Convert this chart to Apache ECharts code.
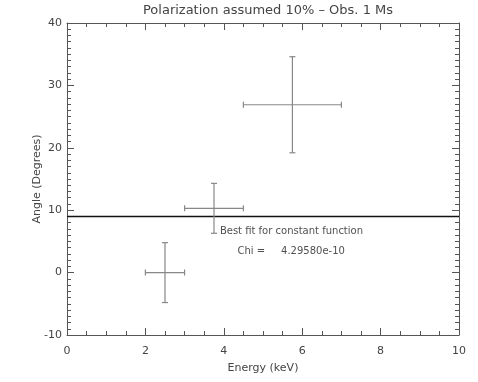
<!DOCTYPE html>
<html>
<head>
<meta charset="utf-8">
<script src="https://cdn.jsdelivr.net/npm/echarts@6/dist/echarts.min.js"></script>
<style>
  html, body { margin: 0; padding: 0; background: #fff; }
  #chart { width: 478px; height: 382px; }
</style>
</head>
<body>
<div id="chart"></div>
<script>
var energy = [2.5, 3.75, 5.75];
var energyLo = [2.0, 3.0, 4.5];
var energyHi = [3.0, 4.5, 7.0];
var angle = [0, 10.3, 26.9];
var angleErr = [4.8, 4.0, 7.7];
var fitValue = 9.0;
var fitLabel = 'Best fit for constant function';
var chiLabel = 'Chi =     4.29580e-10';

var chartDom = document.getElementById('chart');
var myChart = echarts.init(chartDom);

var textColor = '#444';
var font = 'DejaVu Sans';

var errData = energy.map(function (e, i) {
  return [e, angle[i], energyLo[i], energyHi[i], angle[i] - angleErr[i], angle[i] + angleErr[i]];
});

function renderErr(params, api) {
  var c = api.coord([api.value(0), api.value(1)]);
  var xl = api.coord([api.value(2), api.value(1)]);
  var xh = api.coord([api.value(3), api.value(1)]);
  var yl = api.coord([api.value(0), api.value(4)]);
  var yh = api.coord([api.value(0), api.value(5)]);
  var st = { stroke: '#888', lineWidth: 1.2 };
  var cap = 3;
  return {
    type: 'group',
    children: [
      { type: 'line', shape: { x1: xl[0], y1: c[1], x2: xh[0], y2: c[1] }, style: st },
      { type: 'line', shape: { x1: c[0], y1: yl[1], x2: c[0], y2: yh[1] }, style: st },
      { type: 'line', shape: { x1: xl[0], y1: c[1] - cap, x2: xl[0], y2: c[1] + cap }, style: st },
      { type: 'line', shape: { x1: xh[0], y1: c[1] - cap, x2: xh[0], y2: c[1] + cap }, style: st },
      { type: 'line', shape: { x1: c[0] - cap, y1: yl[1], x2: c[0] + cap, y2: yl[1] }, style: st },
      { type: 'line', shape: { x1: c[0] - cap, y1: yh[1], x2: c[0] + cap, y2: yh[1] }, style: st }
    ]
  };
}

var baseX = {
  type: 'value', min: 0, max: 10, interval: 2,
  axisLine: { onZero: false, lineStyle: { color: '#555', width: 1 } },
  axisTick: { inside: true, length: 7, lineStyle: { color: '#555' } },
  minorTick: { show: true, splitNumber: 4, length: 4, lineStyle: { color: '#555' } },
  splitLine: { show: false }
};
var baseY = {
  type: 'value', min: -10, max: 40, interval: 10,
  axisLine: { onZero: false, lineStyle: { color: '#555', width: 1 } },
  axisTick: { inside: true, length: 7, lineStyle: { color: '#555' } },
  minorTick: { show: true, splitNumber: 10, length: 4, lineStyle: { color: '#555' } },
  splitLine: { show: false }
};

var option = {
  animation: false,
  backgroundColor: '#fff',
  title: {
    text: 'Polarization assumed 10% \u2013 Obs. 1 Ms',
    left: 263, top: -1, textAlign: 'center',
    textStyle: { fontFamily: font, fontSize: 13, fontWeight: 'normal', color: textColor }
  },
  grid: { left: 67, right: 19, top: 23, bottom: 47 },
  xAxis: [
    Object.assign({}, baseX, {
      position: 'bottom',
      name: 'Energy (keV)', nameLocation: 'middle', nameGap: 28, nameMoveOverlap: false,
      nameTextStyle: { fontFamily: font, fontSize: 11, color: textColor },
      axisLabel: { fontFamily: font, fontSize: 11, color: textColor, margin: 11 }
    }),
    Object.assign({}, baseX, { position: 'top', axisLabel: { show: false } })
  ],
  yAxis: [
    Object.assign({}, baseY, {
      position: 'left',
      name: 'Angle (Degrees)', nameLocation: 'middle', nameGap: 24, nameMoveOverlap: false,
      nameTextStyle: { fontFamily: font, fontSize: 11, color: textColor },
      axisLabel: { fontFamily: font, fontSize: 11, color: textColor, margin: 5 }
    }),
    Object.assign({}, baseY, { position: 'right', axisLabel: { show: false } })
  ],
  series: [
    {
      type: 'line',
      data: [[0, fitValue], [10, fitValue]],
      symbol: 'none',
      lineStyle: { color: '#111', width: 1.5 },
      z: 3
    },
    {
      type: 'custom',
      renderItem: renderErr,
      data: errData,
      z: 4
    },
    {
      type: 'scatter',
      symbolSize: 0,
      data: [[3.9, 6.6, fitLabel], [4.35, 3.4, chiLabel]],
      label: {
        show: true, position: 'right', distance: 0,
        formatter: function (p) { return p.data[2]; },
        fontFamily: font, fontSize: 10, color: '#222'
      },
      z: 5
    }
  ]
};

myChart.setOption(option);
window.addEventListener('resize', () => myChart.resize());
</script>
</body>
</html>
